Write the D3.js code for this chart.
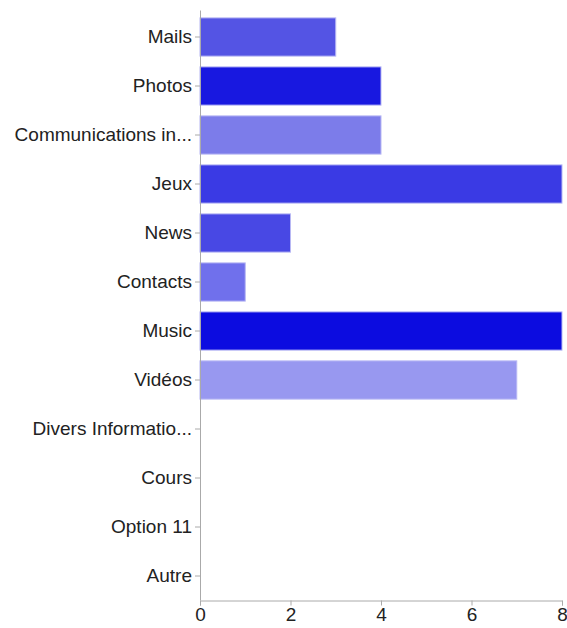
<!DOCTYPE html>
<html><head><meta charset="utf-8">
<script src="https://d3js.org/d3.v7.min.js"></script>
<style>body{margin:0;background:#fff;} text{font-family:"Liberation Sans",Arial,Helvetica,sans-serif;}</style>
</head><body>
<svg id="c" width="567" height="628"></svg>
<script>
const categories = ["Mails","Photos","Communications in...","Jeux","News","Contacts","Music","Vidéos","Divers Informatio...","Cours","Option 11","Autre"];
const values = [3,4,4,8,2,1,8,7,0,0,0,0];
const colors = ["#5454e4","#1818e0","#7c7cea","#3a3ae4","#4848e4","#7070ec","#0c0ce0","#9898f0","#9898f0","#9898f0","#9898f0","#9898f0"];
const xTicks = [0,2,4,6,8];

(function(){
const svg = d3.select("#c");
const mLeft = 200, mRight = 562, mTop = 12.5, mBottom = 600.5;
const x = d3.scaleLinear().domain([0,8]).range([mLeft,mRight]);
const y = d3.scaleBand().domain(categories).range([mTop,mBottom]).paddingInner(0.22).paddingOuter(0.11);

svg.selectAll("rect.bar").data(categories).enter().append("rect")
  .attr("class","bar")
  .attr("x", x(0))
  .attr("y", d => y(d))
  .attr("width", (d,i) => x(values[i]) - x(0))
  .attr("height", y.bandwidth())
  .attr("fill", (d,i) => colors[i])
  .attr("stroke", (d,i) => values[i] > 0 ? "#b8b8f4" : "none")
  .attr("stroke-width", 1);

const ya = svg.append("g").attr("transform", `translate(${mLeft},0)`)
  .call(d3.axisLeft(y).tickSizeOuter(0).tickSize(5).tickPadding(3));
ya.select(".domain").attr("stroke","#aaa").attr("d", `M0.5,${mTop-2}V${mBottom}`);
ya.selectAll(".tick line").attr("stroke","#aaa");
ya.selectAll(".tick text").attr("font-size","19px").attr("fill","#222");

const xa = svg.append("g").attr("transform", `translate(0,${mBottom})`)
  .call(d3.axisBottom(x).tickValues(xTicks).tickSizeOuter(0).tickSize(5).tickPadding(2));
xa.select(".domain").attr("stroke","#aaa");
xa.selectAll(".tick line").attr("stroke","#aaa");
xa.selectAll(".tick text").attr("font-size","19px").attr("fill","#222");
})();
</script>
</body></html>
